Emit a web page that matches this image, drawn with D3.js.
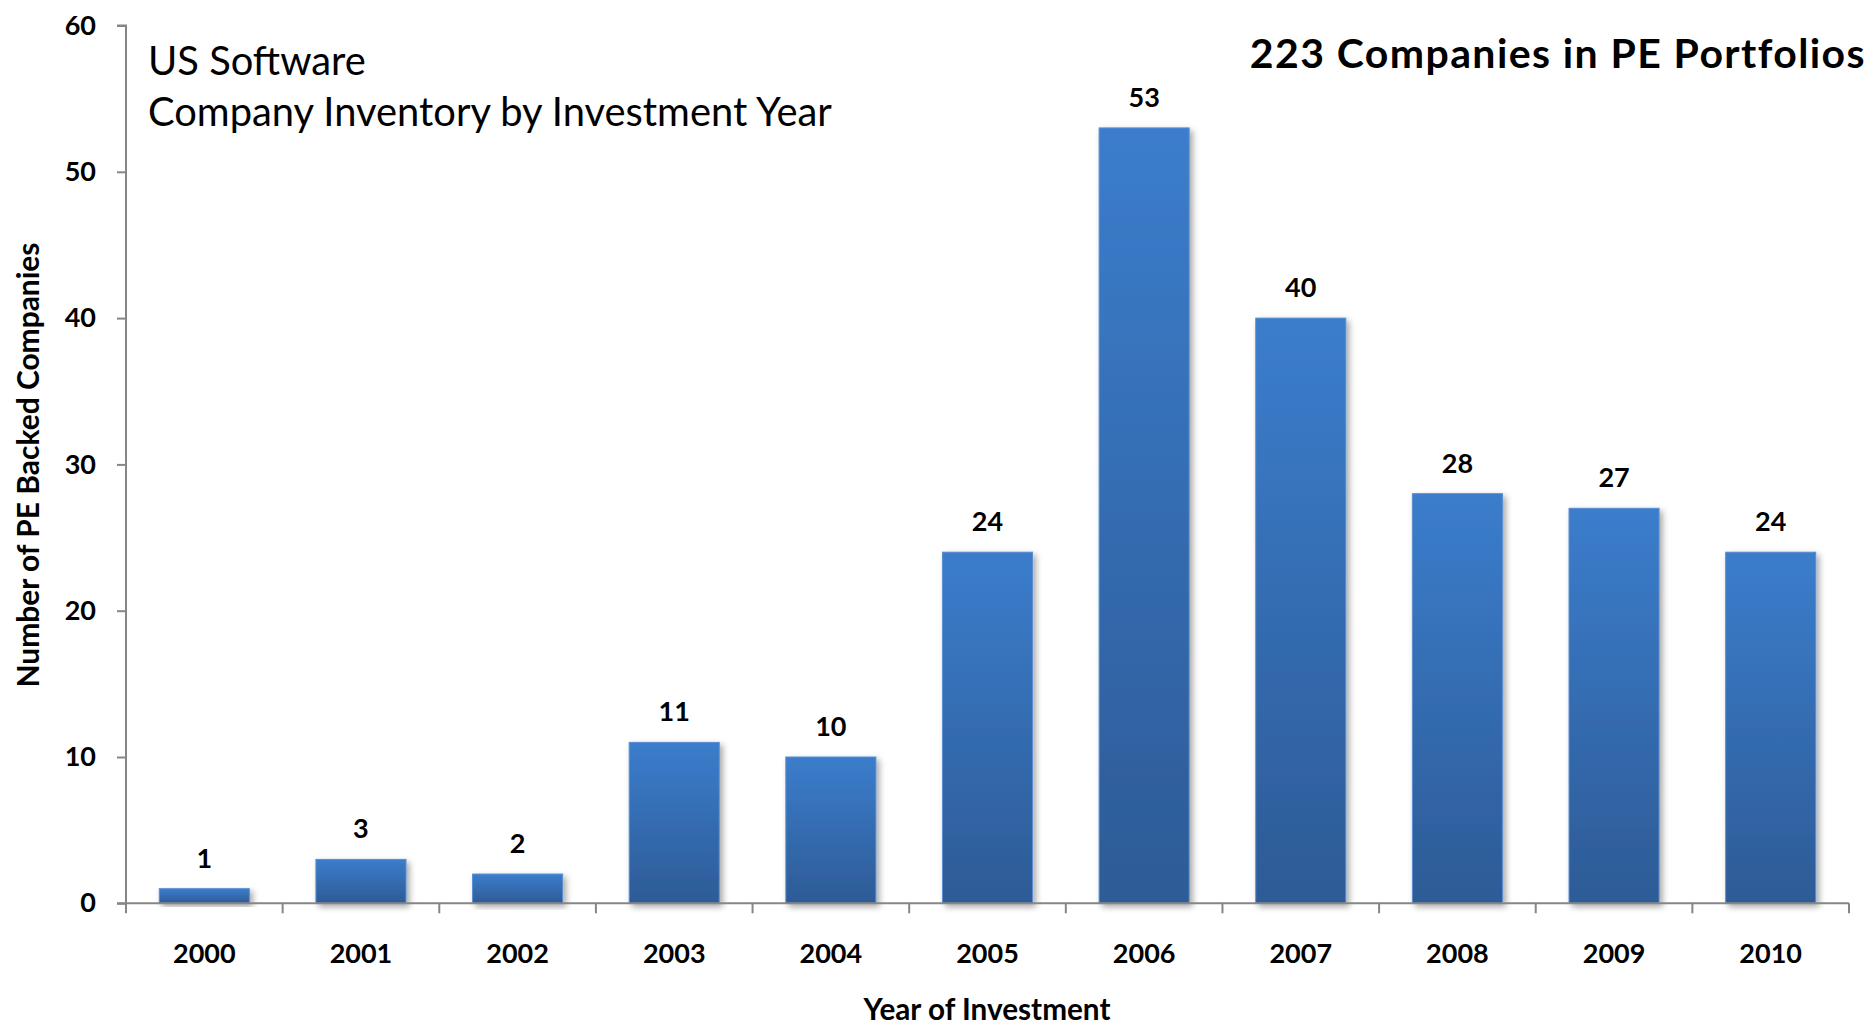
<!DOCTYPE html>
<html>
<head>
<meta charset="utf-8">
<script src="https://cdn.jsdelivr.net/npm/d3@7"></script>
<style>
  html, body { margin: 0; padding: 0; background: #fff; }
  svg { display: block; }
  text { font-family: Lato, "Open Sans", sans-serif; fill: #000; }
</style>
</head>
<body>
<svg id="chart" width="1872" height="1026"></svg>
<script>
// ---- data ----
const years = ["2000","2001","2002","2003","2004","2005","2006","2007","2008","2009","2010"];
const companies = [1, 3, 2, 11, 10, 24, 53, 40, 28, 27, 24];
const yTicks = [0, 10, 20, 30, 40, 50, 60];
const titleText = "223 Companies in PE Portfolios";
const subtitleLines = ["US Software", "Company Inventory by Investment Year"];
const xTitle = "Year of Investment";
const yTitle = "Number of PE Backed Companies";

(function () {
// ---- layout ----
const mLeft = 126, mRight = 1849, mTop = 25.5, mBottom = 903.3;
const svg = d3.select("#chart");

// helper: scale font so that text spans target width
function fit(sel, target) {
  const fs = parseFloat(sel.attr("font-size"));
  const w = sel.node().getComputedTextLength();
  if (w > 0) sel.attr("font-size", (fs * target / w).toFixed(2));
  return sel;
}
// helper: keep font size, spread letters to reach target width
function spread(sel, target) {
  const w = sel.node().getComputedTextLength();
  const n = sel.text().length;
  if (w > 0 && n > 1) sel.attr("letter-spacing", ((target - w) / n).toFixed(2));
  return sel;
}

const defs = svg.append("defs");
const grad = defs.append("linearGradient").attr("id", "barGrad")
  .attr("x1", 0).attr("y1", 0).attr("x2", 0).attr("y2", 1);
grad.append("stop").attr("offset", "0%").attr("stop-color", "#3B7DCC");
grad.append("stop").attr("offset", "100%").attr("stop-color", "#2D5B96");

const shadow = defs.append("filter").attr("id", "shadow")
  .attr("x", "-10%").attr("y", "-10%").attr("width", "130%").attr("height", "130%");
shadow.append("feDropShadow").attr("dx", 3).attr("dy", 3).attr("stdDeviation", 3)
  .attr("flood-color", "#000").attr("flood-opacity", 0.35);

const x = d3.scaleBand().domain(years).range([mLeft, mRight])
  .paddingInner(0.425).paddingOuter(0.2125);
const y = d3.scaleLinear().domain([0, 60]).range([mBottom, mTop]);

// bars
svg.append("g").selectAll("rect").data(years).join("rect")
  .attr("x", d => x(d))
  .attr("y", (d, i) => y(companies[i]))
  .attr("width", x.bandwidth())
  .attr("height", (d, i) => y(0) - y(companies[i]))
  .attr("fill", "url(#barGrad)")
  .attr("stroke", "#5A8FD2").attr("stroke-width", 1)
  .attr("filter", "url(#shadow)");

// data labels
svg.append("g").selectAll("text").data(years).join("text")
  .attr("x", d => x(d) + x.bandwidth() / 2)
  .attr("y", (d, i) => y(companies[i]) - 21)
  .attr("text-anchor", "middle")
  .attr("font-size", 27).attr("font-weight", "bold")
  .text((d, i) => companies[i]);

// y axis
const yAxis = svg.append("g").attr("transform", `translate(${mLeft},0)`)
  .call(d3.axisLeft(y).tickValues(yTicks).tickSize(9).tickPadding(21).tickFormat(d3.format("d")));
yAxis.select(".domain").attr("stroke", "#868686").attr("stroke-width", 2)
  .attr("d", `M-9,${mTop}H0V${mBottom}`);
yAxis.selectAll(".tick line").attr("stroke", "#868686").attr("stroke-width", 2);
yAxis.selectAll(".tick text").attr("font-size", 27).attr("font-weight", "bold")
  .attr("font-family", "Lato, sans-serif").attr("fill", "#000");

// x axis line + boundary ticks
const boundaries = d3.range(years.length + 1).map(i => mLeft + i * x.step());
const xg = svg.append("g");
xg.append("line").attr("x1", mLeft - 9).attr("x2", mRight).attr("y1", mBottom).attr("y2", mBottom)
  .attr("stroke", "#868686").attr("stroke-width", 2);
xg.selectAll("line.b").data(boundaries).join("line").attr("class", "b")
  .attr("x1", d => d).attr("x2", d => d).attr("y1", mBottom).attr("y2", mBottom + 10)
  .attr("stroke", "#868686").attr("stroke-width", 2);
// x labels
const xAxis = svg.append("g").attr("transform", `translate(0,${mBottom})`)
  .call(d3.axisBottom(x).tickSize(0).tickPadding(0));
xAxis.select(".domain").remove();
xAxis.selectAll(".tick text").attr("font-size", 27).attr("font-weight", "bold")
  .attr("font-family", "Lato, sans-serif").attr("fill", "#000")
  .attr("dy", null).attr("y", 60);

// axis titles
fit(svg.append("text").attr("x", 987).attr("y", 1020).attr("text-anchor", "middle")
  .attr("font-size", 24).attr("font-weight", "bold").text(xTitle), 247);
fit(svg.append("text").attr("transform", "translate(39,465) rotate(-90)")
  .attr("text-anchor", "middle").attr("font-size", 24).attr("font-weight", "bold")
  .text(yTitle), 445);

// subtitle
const sub = svg.append("g");
const l1 = sub.append("text").attr("x", 148).attr("y", 75).attr("font-size", 36).text(subtitleLines[0]);
const l2 = sub.append("text").attr("x", 148).attr("y", 126).attr("font-size", 36).text(subtitleLines[1]);
fit(l2, 684);
l1.attr("font-size", l2.attr("font-size"));

// title
const t = svg.append("text").attr("x", 1866).attr("y", 68).attr("text-anchor", "end")
  .attr("font-size", 41).attr("font-weight", "bold").text(titleText);
spread(t, 615);
})();
</script>
</body>
</html>
